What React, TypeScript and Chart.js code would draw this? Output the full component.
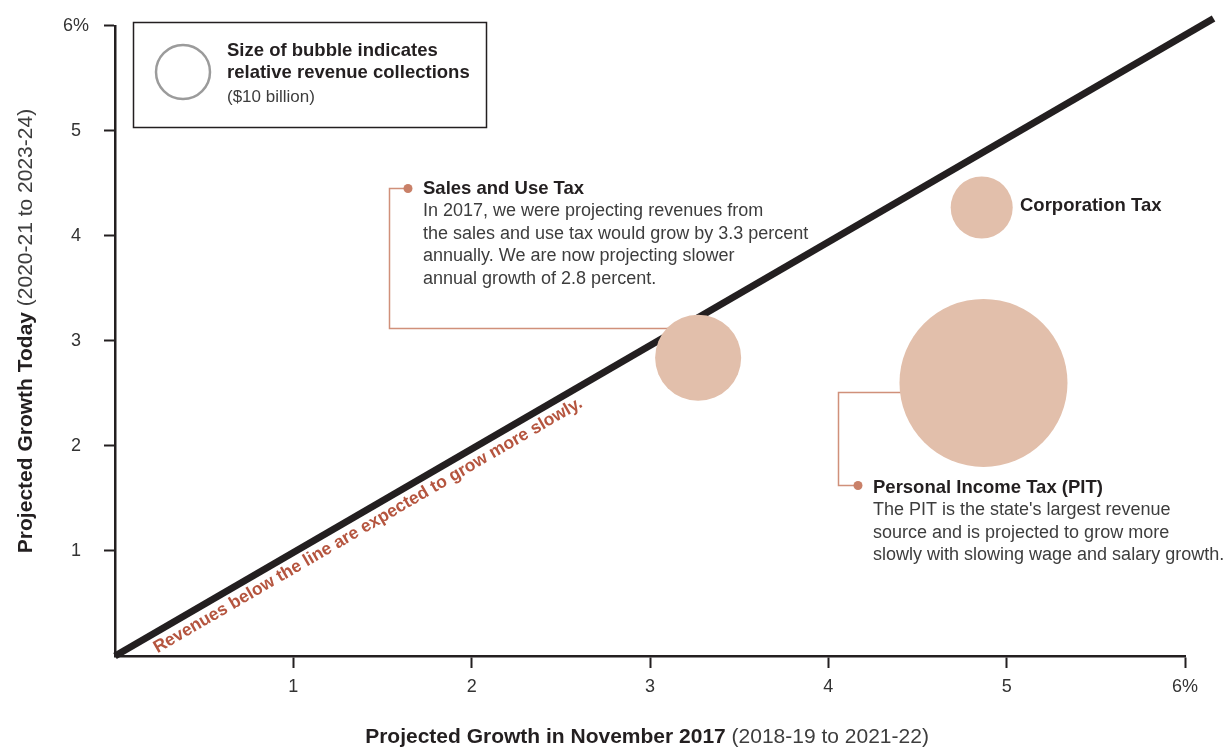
import React, { useEffect, useRef } from 'react';
import { Chart, registerables } from 'chart.js';

Chart.register(...registerables);

// ---- data ----
const bubbleNames = ['Sales and Use Tax', 'Corporation Tax', 'Personal Income Tax (PIT)'];
const growthNov2017 = [3.27, 4.86, 4.87];
const growthToday = [2.84, 4.27, 2.6];
const revenueBillions = [25.4, 13.2, 96.8];
const legendRevenue = 10; // $10 billion reference bubble
const xTickValues = [1, 2, 3, 4, 5, 6];
const yTickValues = [1, 2, 3, 4, 5, 6];
const parityX = [0, 6.16];
const parityY = [0, 6.07];

const salesNote = [
  'In 2017, we were projecting revenues from',
  'the sales and use tax would grow by 3.3 percent',
  'annually. We are now projecting slower',
  'annual growth of 2.8 percent.',
];
const pitNote = [
  "The PIT is the state's largest revenue",
  'source and is projected to grow more',
  'slowly with slowing wage and salary growth.',
];

// ---- styles ----
const FONT = '"Liberation Sans", Arial, Helvetica, sans-serif';
const DARK = '#231f20';
const BODY = '#3d3d3d';
const BUBBLE = '#e2bfab';
const CALLOUT = '#d0907a';
const DOT = '#c98068';
const NOTE_RED = '#b5553f';
const LEGEND_R = 27;

const radiusFor = (v: number) => LEGEND_R * Math.sqrt(v / legendRevenue);
const tickLabel = (v: number) => (v === 6 ? '6%' : String(v));

const annotations = {
  id: 'annotations',
  beforeDatasetsDraw(chart: any) {
    const ctx = chart.ctx;
    const meta = chart.getDatasetMeta(1);
    const sales = meta.data[0];
    const pit = meta.data[2];
    ctx.save();
    ctx.strokeStyle = CALLOUT;
    ctx.lineWidth = 1.5;
    // sales callout
    ctx.beginPath();
    ctx.moveTo(408, 188.5);
    ctx.lineTo(389.5, 188.5);
    ctx.lineTo(389.5, 328.5);
    ctx.lineTo(sales.x, 328.5);
    ctx.stroke();
    // PIT callout
    ctx.beginPath();
    ctx.moveTo(pit.x, 392.5);
    ctx.lineTo(838.5, 392.5);
    ctx.lineTo(838.5, 485.5);
    ctx.lineTo(858, 485.5);
    ctx.stroke();
    ctx.fillStyle = DOT;
    ctx.beginPath();
    ctx.arc(408, 188.5, 4.5, 0, Math.PI * 2);
    ctx.fill();
    ctx.beginPath();
    ctx.arc(858, 485.5, 4.5, 0, Math.PI * 2);
    ctx.fill();
    ctx.restore();
  },
  afterDraw(chart: any) {
    const ctx = chart.ctx;
    const xs = chart.scales.x;
    const ys = chart.scales.y;
    ctx.save();
    ctx.textBaseline = 'middle';
    ctx.textAlign = 'left';

    // legend box
    ctx.strokeStyle = DARK;
    ctx.lineWidth = 1.5;
    ctx.strokeRect(133.5, 22.5, 353, 105);
    ctx.strokeStyle = '#9b9b9b';
    ctx.lineWidth = 2.5;
    ctx.beginPath();
    ctx.arc(183, 72, radiusFor(legendRevenue), 0, Math.PI * 2);
    ctx.stroke();
    ctx.fillStyle = DARK;
    ctx.font = `bold 18.5px ${FONT}`;
    ctx.fillText('Size of bubble indicates', 227, 51);
    ctx.fillText('relative revenue collections', 227, 73);
    ctx.fillStyle = BODY;
    ctx.font = `17px ${FONT}`;
    ctx.fillText('($10 billion)', 227, 97);

    // sales text
    ctx.fillStyle = DARK;
    ctx.font = `bold 18.5px ${FONT}`;
    ctx.fillText(bubbleNames[0], 423, 189);
    ctx.fillStyle = BODY;
    ctx.font = `18px ${FONT}`;
    salesNote.forEach((l, i) => ctx.fillText(l, 423, 211.5 + i * 22.5));

    // corporation
    ctx.fillStyle = DARK;
    ctx.font = `bold 18.5px ${FONT}`;
    ctx.fillText(bubbleNames[1], 1020, 206);

    // PIT
    ctx.fillText(bubbleNames[2], 873, 488);
    ctx.fillStyle = BODY;
    ctx.font = `18px ${FONT}`;
    pitNote.forEach((l, i) => ctx.fillText(l, 873, 510.5 + i * 22.5));

    // rotated note along parity line
    const ox = xs.getPixelForValue(0);
    const oy = ys.getPixelForValue(0);
    const ex = xs.getPixelForValue(parityX[1]);
    const ey = ys.getPixelForValue(parityY[1]);
    const ang = Math.atan2(ey - oy, ex - ox);
    ctx.save();
    ctx.translate(ox, oy);
    ctx.rotate(ang);
    ctx.fillStyle = NOTE_RED;
    ctx.font = `bold 17.5px ${FONT}`;
    ctx.textBaseline = 'alphabetic';
    ctx.fillText('Revenues below the line are expected to grow more slowly.', 38, 19);
    ctx.restore();

    // axis titles
    const drawMixed = (bold: string, normal: string, cx: number, cy: number) => {
      ctx.font = `bold 21px ${FONT}`;
      const wb = ctx.measureText(bold).width;
      ctx.font = `21px ${FONT}`;
      const wn = ctx.measureText(normal).width;
      const start = cx - (wb + wn) / 2;
      ctx.fillStyle = DARK;
      ctx.font = `bold 21px ${FONT}`;
      ctx.fillText(bold, start, cy);
      ctx.fillStyle = BODY;
      ctx.font = `21px ${FONT}`;
      ctx.fillText(normal, start + wb, cy);
    };
    drawMixed('Projected Growth in November 2017', ' (2018-19 to 2021-22)', 647, 737);
    ctx.save();
    ctx.translate(26, 331);
    ctx.rotate(-Math.PI / 2);
    drawMixed('Projected Growth Today', ' (2020-21 to 2023-24)', 0, 0);
    ctx.restore();

    ctx.restore();
  },
};

export default function App() {
  const ref = useRef<HTMLCanvasElement | null>(null);

  useEffect(() => {
    document.body.style.margin = '0';
    if (!ref.current) return;
    Chart.defaults.font.family = FONT;
    const chart = new Chart(ref.current, {
      type: 'bubble',
      data: {
        datasets: [
          {
            type: 'line',
            data: parityX.map((x, i) => ({ x, y: parityY[i] })),
            borderColor: DARK,
            borderWidth: 7,
            pointRadius: 0,
            clip: false,
            order: 2,
          } as any,
          {
            type: 'bubble',
            data: growthNov2017.map((x, i) => ({
              x,
              y: growthToday[i],
              r: radiusFor(revenueBillions[i]),
            })),
            backgroundColor: BUBBLE,
            borderWidth: 0,
            hoverBorderWidth: 0,
            clip: false,
            order: 1,
          } as any,
        ],
      },
      options: {
        responsive: false,
        animation: false,
        events: [],
        layout: { autoPadding: false, padding: { top: 22, right: 47, left: 0, bottom: 0 } },
        plugins: { legend: { display: false }, tooltip: { enabled: false } },
        scales: {
          x: {
            type: 'linear',
            min: 0,
            max: 6,
            afterBuildTicks: (s: any) => {
              s.ticks = xTickValues.map((value) => ({ value }));
            },
            afterFit: (s: any) => {
              s.height = 92;
            },
            grid: {
              drawOnChartArea: false,
              drawTicks: true,
              tickLength: 12,
              tickColor: DARK,
              tickWidth: 2,
            },
            border: { color: DARK, width: 2.5 },
            ticks: {
              callback: (v: any) => tickLabel(Number(v)),
              font: { size: 18 },
              color: '#333333',
              padding: 8,
              maxRotation: 0,
              autoSkip: false,
            },
          },
          y: {
            type: 'linear',
            min: 0,
            max: 6,
            afterBuildTicks: (s: any) => {
              s.ticks = yTickValues.map((value) => ({ value }));
            },
            afterFit: (s: any) => {
              s.width = 115;
            },
            grid: {
              drawOnChartArea: false,
              drawTicks: true,
              tickLength: 11,
              tickColor: DARK,
              tickWidth: 2,
            },
            border: { color: DARK, width: 2.5 },
            ticks: {
              callback: (v: any) => tickLabel(Number(v)),
              font: { size: 18 },
              color: '#333333',
              padding: 15,
              crossAlign: 'center',
              autoSkip: false,
            },
          },
        },
      } as any,
      plugins: [annotations],
    });
    return () => chart.destroy();
  }, []);

  return <canvas ref={ref} width={1232} height={748} style={{ display: 'block' }} />;
}
